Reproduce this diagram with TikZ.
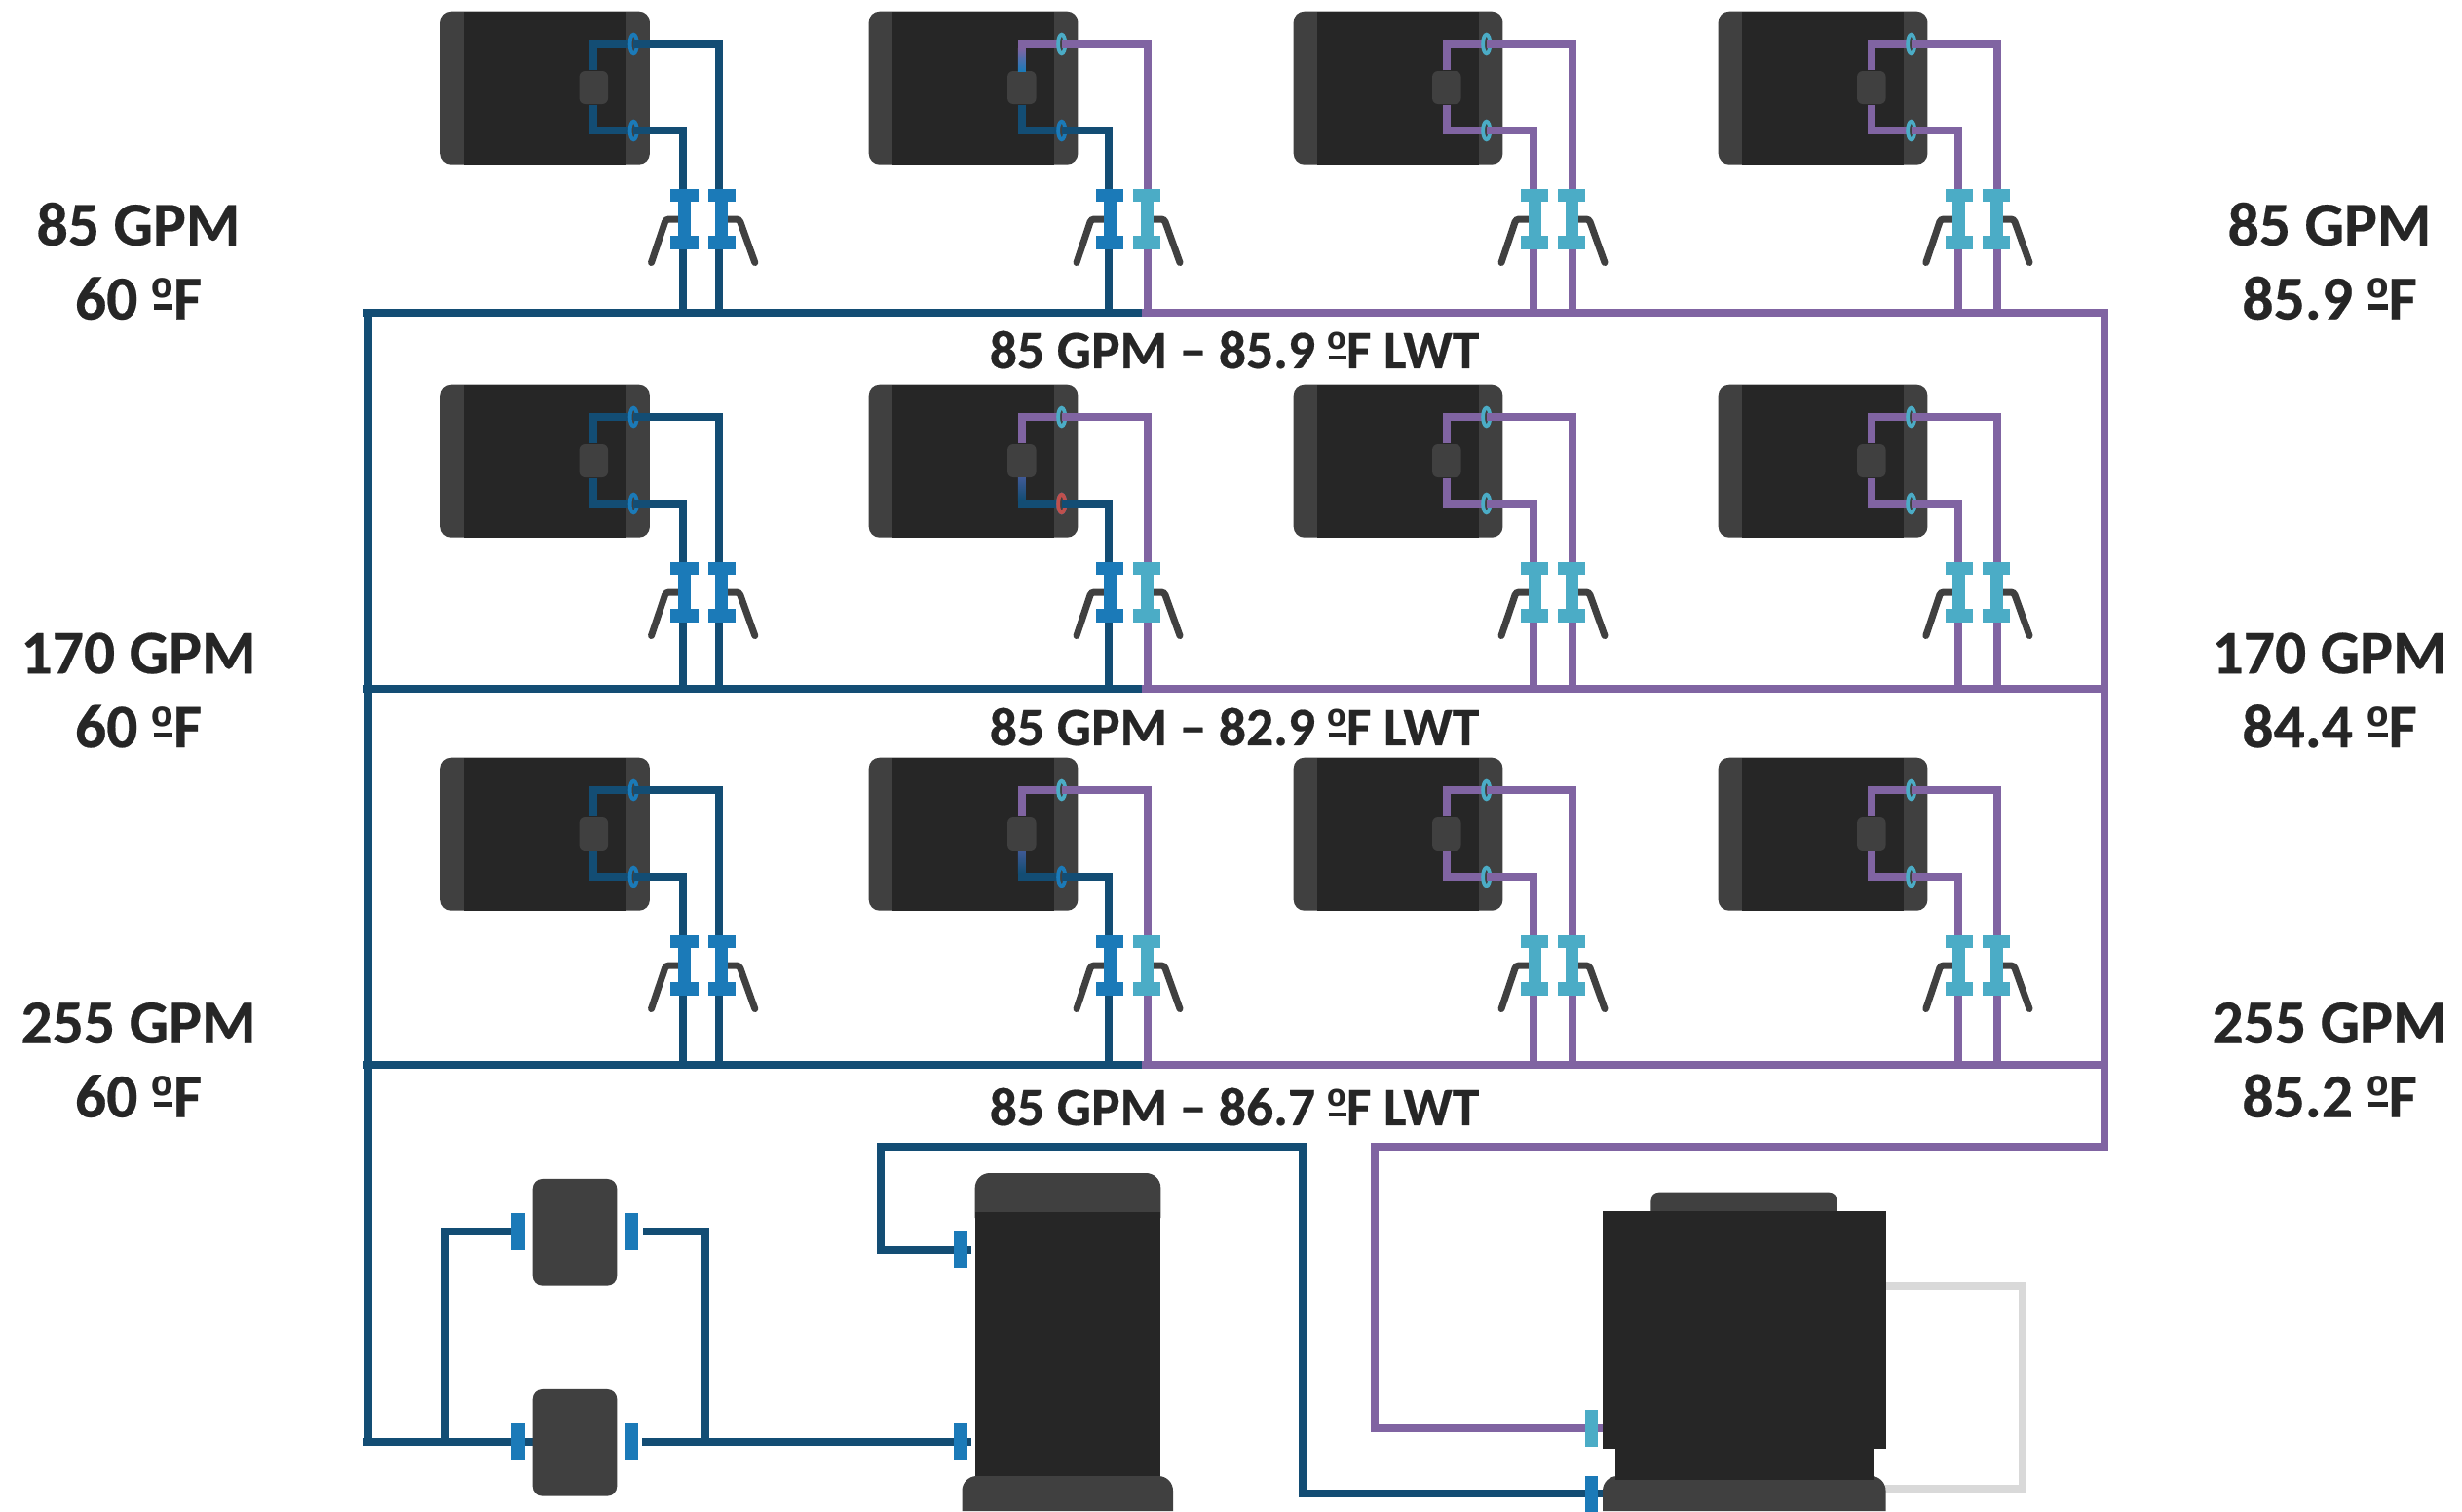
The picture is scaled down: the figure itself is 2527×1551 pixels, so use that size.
\documentclass[tikz,border=0pt]{standalone}
\usepackage{fontspec}
\setmainfont{Carlito}[BoldFeatures={FakeBold=0.35}]
\newfontfamily\ordfont{Liberation Sans}[Scale=0.95]
\newcommand{\ordm}{\rlap{\kern0.03em\rule[0.16em]{0.31em}{0.08em}}{\ordfont\bfseries º}}
\usetikzlibrary{positioning, shapes.geometric}
\definecolor{cwpipe}{RGB}{19,77,116}
\definecolor{hwpipe}{RGB}{128,100,162}
\definecolor{valveblue}{RGB}{27,122,184}
\definecolor{valvecyan}{RGB}{75,172,198}
\definecolor{portred}{RGB}{192,80,77}
\definecolor{capgray}{RGB}{64,64,64}
\definecolor{bodygray}{RGB}{38,38,38}
\definecolor{loopgray}{RGB}{217,217,217}
\definecolor{midblue}{RGB}{64,90,150}
\tikzset{
  pipe/.style={line width=0.8mm},
  unitbox/.style={fill=capgray, rounded corners=1.1mm, minimum width=21.47mm, minimum height=15.7mm, inner sep=0pt, anchor=north west},
  unitcore/.style={fill=bodygray, minimum width=16.67mm, minimum height=15.7mm, inner sep=0pt},
  pumpbox/.style={fill=capgray, rounded corners=0.6mm, minimum width=2.95mm, minimum height=3.4mm, inner sep=0pt},
  port/.style={ellipse, line width=0.38mm, fill=capgray, minimum width=0.72mm, minimum height=1.86mm, inner sep=0pt, outer sep=0pt},
  web/.style={minimum width=1.3mm, minimum height=6.17mm, inner sep=0pt},
  flange/.style={minimum width=2.84mm, minimum height=1.34mm, inner sep=0pt},
  stand/.style={draw=capgray, line width=0.7mm, line cap=round, rounded corners=0.3mm},
  tab/.style={minimum width=1.38mm, minimum height=3.8mm, inner sep=0pt},
  skid/.style={fill=capgray, rounded corners=1mm, minimum width=8.66mm, minimum height=10.97mm, inner sep=0pt},
  flowlabel/.style={align=center, text=bodygray, font=\fontsize{18.1pt}{21.6pt}\selectfont\bfseries},
  lwtlabel/.style={text=bodygray, font=\fontsize{15.8pt}{18pt}\selectfont\bfseries},
}
\begin{document}
\begin{tikzpicture}[x=0.1mm, y=-0.1mm]
    \useasboundingbox (0,0) rectangle (2527,1551);

    % headers and mains
    \coordinate (mainw) at (378,1480);
    \coordinate (mainup) at (904.3,1177);
    \coordinate (mainlo) at (1337.3,1533.3);
    \draw[pipe, draw=cwpipe] (378,320.5) -- (mainw);
    \foreach \row/\h in {1/320.5, 2/706.5, 3/1093} {
      \coordinate (hw\row) at (373,\h);
      \coordinate (hm\row) at (1171.5,\h);
      \coordinate (he\row) at (2164,\h);
      \draw[pipe, draw=cwpipe] (hw\row) -- (hm\row);
      \draw[pipe, draw=hwpipe] (hm\row) -- (he\row);
    }

    % twelve units
    \foreach \row/\y/\h in {1/11/320.5, 2/394/706.5, 3/777/1093} {
      \foreach \col/\x/\pipel/\piper/\valvel/\valver/\colvl/\colvr/\colpl/\colpr/\colt/\colb in {
        1/451.5/701/737.5/702.5/740.8/valveblue/valveblue/cwpipe/cwpipe/valveblue/valveblue,
        2/891/1137.7/1177.7/1139/1177/valveblue/valvecyan/cwpipe/hwpipe/valvecyan/valveblue,
        3/1327/1573.7/1613.7/1575/1613/valvecyan/valvecyan/hwpipe/hwpipe/valvecyan/valvecyan,
        4/1763/2009.7/2049.7/2010.8/2049/valvecyan/valvecyan/hwpipe/hwpipe/valvecyan/valvecyan} {
        \node[unitbox] (box\row\col) at (\x,\y) {};
        \node[unitcore] (core\row\col) at (box\row\col.center) {};
        \node[pumpbox] (pump\row\col) at (\x+157.8,\y+79) {};
        \coordinate (tc\row\col) at (\x+198.7,\y+34);
        \coordinate (bc\row\col) at (\x+198.7,\y+123);
        \coordinate (bl\row\col) at (\pipel,\y+123);
        \coordinate (hl\row\col) at (\pipel,\h);
        \coordinate (hr\row\col) at (\piper,\h);
        \draw[pipe, draw=\colpr] (pump\row\col.north) |- (tc\row\col);
        \draw[pipe, draw=\colpl] (pump\row\col.south) |- (bc\row\col);
        \node[port, draw=\colt] (tp\row\col) at (tc\row\col) {};
        \node[port, draw=\colb] (bp\row\col) at (bc\row\col) {};
        \draw[pipe, draw=\colpr] (tp\row\col.center) -| (hr\row\col);
        \draw[pipe, draw=\colpl] (bp\row\col.center) -| (hl\row\col);
        \draw[stand] (\valvel-34,\y+258.5) -- (\valvel-19,\y+214) -- (\valvel,\y+214);
        \draw[stand] (\valver+34,\y+258.5) -- (\valver+18,\y+214) -- (\valver,\y+214);
        \node[web, fill=\colvl] (lv\row\col) at (\valvel,\y+213.8) {};
        \node[web, fill=\colvr] (rv\row\col) at (\valver,\y+213.8) {};
        \node[flange, fill=\colvl, anchor=north] (lvt\row\col) at (lv\row\col.north) {};
        \node[flange, fill=\colvl, anchor=south] (lvb\row\col) at (lv\row\col.south) {};
        \node[flange, fill=\colvr, anchor=north] (rvt\row\col) at (rv\row\col.north) {};
        \node[flange, fill=\colvr, anchor=south] (rvb\row\col) at (rv\row\col.south) {};
      }
    }

    % second column, mixed sections
    \shade[top color=hwpipe, bottom color=valveblue] (1044.9,49) rectangle (1052.9,73);
    \shade[top color=midblue, bottom color=cwpipe] (1044.9,490) rectangle (1052.9,513);
    \shade[top color=midblue, bottom color=cwpipe] (1044.9,873) rectangle (1052.9,896);
    \node[port, draw=portred] (redport) at (bc22) {};
    \draw[pipe, draw=cwpipe] (redport.center) -- (bl22);

    % pumps
    \coordinate (busl) at (457,1480);
    \coordinate (busr) at (724,1480);
    \coordinate (stubl) at (530,1264);
    \coordinate (stubr) at (660,1264);
    \coordinate (stubb) at (659,1480);
    \draw[pipe, draw=cwpipe] (stubl) -| (busl);
    \draw[pipe, draw=cwpipe] (stubr) -| (busr);
    \draw[pipe, draw=cwpipe] (373,1480) -- (560,1480);
    \node[skid] (skida) at (590,1264.8) {};
    \node[skid] (skidb) at (590,1480.8) {};
    \node[tab, fill=valveblue] (tabal) at (532.3,1264) {};
    \node[tab, fill=valveblue] (tabar) at (647.7,1264) {};
    \node[tab, fill=valveblue] (tabbl) at (532.3,1480) {};
    \node[tab, fill=valveblue] (tabbr) at (647.7,1480) {};

    % connectors to the two machines
    \coordinate (feed) at (997,1480);
    \coordinate (feedup) at (997,1283.3);
    \coordinate (hotlo) at (1410.8,1466);
    \draw[pipe, draw=cwpipe] (stubb) -- (feed);
    \draw[pipe, draw=cwpipe] (feedup) -| (mainup) -| (mainlo) -- (1650,1533.3);
    \draw[pipe, draw=hwpipe] (2160,320.5) |- (2160,1177) -| (hotlo) -- (1650,1466);
    \draw[pipe, draw=loopgray] (1936,1320) -| (2076,1528) -- (1935,1528);

    % tall machine
    \fill[capgray] (1000.7,1250) [rounded corners=1.5mm] -- (1000.7,1204) -- (1191.3,1204) [sharp corners] -- (1191.3,1250) -- cycle;
    \fill[bodygray] (1000.7,1244) rectangle (1191.3,1520);
    \fill[capgray] (987.5,1551) [rounded corners=1.5mm] -- (987.5,1515) -- (1204,1515) [sharp corners] -- (1204,1551) -- cycle;
    \node[tab, fill=valveblue] (tabup) at (985.8,1283.3) {};
    \node[tab, fill=valveblue] (tablo) at (985.8,1480) {};

    % wide machine
    \fill[capgray] (1694.4,1250) [rounded corners=0.8mm] -- (1694.4,1224.7) -- (1885.5,1224.7) [sharp corners] -- (1885.5,1250) -- cycle;
    \fill[capgray] (1645,1551) [rounded corners=1.5mm] -- (1645,1515) -- (1935.5,1515) [sharp corners] -- (1935.5,1551) -- cycle;
    \fill[bodygray] (1645,1243) rectangle (1936,1487);
    \fill[bodygray] (1658.2,1487) rectangle (1922.9,1519);
    \node[tab, fill=valvecyan] (tabhot) at (1633.5,1466) {};
    \node[tab, fill=valveblue, anchor=north, minimum height=3.7mm] (tabcold) at (1633.5,1514) {};

    % labels
    \node[flowlabel] (inone) at (142,268) {85 GPM\\60 \ordm F};
    \node[flowlabel] (intwo) at (142,708.5) {170 GPM\\60 \ordm F};
    \node[flowlabel] (inthree) at (142,1088) {255 GPM\\60 \ordm F};
    \node[flowlabel] (outone) at (2391,268) {85 GPM\\85.9 \ordm F};
    \node[flowlabel] (outtwo) at (2391,708.5) {170 GPM\\84.4 \ordm F};
    \node[flowlabel] (outthree) at (2391,1088) {255 GPM\\85.2 \ordm F};
    \node[lwtlabel] (lwtone) at (1267,359) {85 GPM -- 85.9 \ordm F LWT};
    \node[lwtlabel] (lwttwo) at (1267,746) {85 GPM -- 82.9 \ordm F LWT};
    \node[lwtlabel] (lwtthree) at (1267,1136) {85 GPM -- 86.7 \ordm F LWT};
\end{tikzpicture}
\end{document}
